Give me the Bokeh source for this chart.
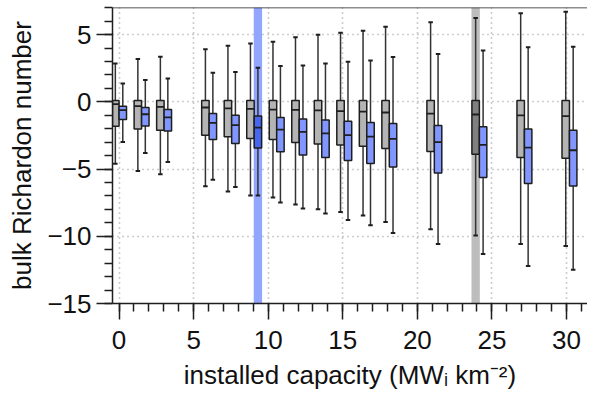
from bokeh.plotting import figure
from bokeh.models import ColumnDataSource, SingleIntervalTicker, Range1d, Span
from bokeh.transform import dodge
from bokeh.embed import file_html
from bokeh.resources import INLINE

# ---- data ----
capacity = [0, 1.51, 3.02, 6.04, 7.55, 9.06, 10.57, 12.08, 13.59, 15.1,
            16.61, 18.12, 21.14, 24.16, 27.18, 30.2]

grey_high = [2.86, 3.18, 3.35, 3.92, 4.17, 4.35, 4.47, 4.8, 4.99, 5.14,
             5.29, 5.58, 5.93, 6.23, 6.6, 6.7]
grey_q3 = [0.1, 0.1, 0.1, 0.1, 0.1, 0.1, 0.1, 0.1, 0.1, 0.1,
           0.1, 0.1, 0.1, 0.1, 0.1, 0.1]
grey_med = [-0.17, -0.32, -0.37, -0.42, -0.49, -0.52, -0.57, -0.6, -0.64, -0.69,
            -0.72, -0.79, -0.87, -0.94, -1.01, -1.06]
grey_q1 = [-1.81, -2.01, -2.11, -2.48, -2.6, -2.73, -2.8, -3.02, -3.13, -3.2,
           -3.3, -3.47, -3.69, -3.89, -4.14, -4.19]
grey_low = [-4.6, -5.14, -5.38, -6.28, -6.67, -6.96, -7.12, -7.64, -7.99, -8.19,
            -8.46, -8.93, -9.48, -9.95, -10.57, -10.72]

blue_high = [1.37, 1.62, 1.74, 2.16, 2.23, 2.53, 2.66, 2.71, 2.86, 2.98,
             3.08, 3.33, 3.57, 3.83, 4.07, 4.1]
blue_q3 = [-0.32, -0.42, -0.57, -0.86, -0.99, -1.06, -1.16, -1.27, -1.34, -1.44,
           -1.54, -1.61, -1.76, -1.86, -2.01, -2.11]
blue_med = [-0.62, -0.92, -1.16, -1.56, -1.73, -1.91, -2.06, -2.23, -2.35, -2.48,
            -2.58, -2.76, -3.0, -3.2, -3.4, -3.6]
blue_q1 = [-1.31, -1.79, -2.16, -2.8, -3.1, -3.43, -3.72, -3.95, -4.14, -4.36,
           -4.59, -4.84, -5.29, -5.63, -6.08, -6.25]
blue_low = [-2.98, -3.8, -4.48, -5.8, -6.33, -6.97, -7.49, -7.94, -8.31, -8.79,
            -9.18, -9.75, -10.57, -11.32, -12.21, -12.48]

grey_highlight = 13   # index of highlighted grey box
blue_highlight = 5    # index of highlighted blue box

y_ticks = [-15, -10, -5, 0, 5]
y_tick_labels = ["\u221215", "\u221210", "\u22125", "0", "5"]
x_label = "installed capacity (MW\u1d62 km\u207b\u00b2)"
y_label = "bulk Richardon number"

# ---- styling ----
FONT = "Liberation Sans"
INK = "#1e1e1e"
GREY_FILL, GREY_DARK, GREY_BAND = "#b4b4b4", "#808080", "#bdbdbd"
BLUE_FILL, BLUE_DARK, BLUE_BAND = "#8197ff", "#4468f2", "#93a6ff"
OFF = 0.25
BOXW = 0.5

XMIN, XMAX = -0.44, 31.41
YMIN, YMAX = -15, 7.02

p = figure(width=587, height=392, x_range=Range1d(XMIN, XMAX),
           y_range=Range1d(YMIN, YMAX), output_backend="svg",
           toolbar_location=None, min_border_left=112, min_border_right=0,
           min_border_top=7, min_border_bottom=89)
p.outline_line_color = None
p.background_fill_color = "white"
p.border_fill_color = "white"

xg = [c - OFF for c in capacity]
xb = [c + OFF for c in capacity]
gfill = [GREY_DARK if i == grey_highlight else GREY_FILL for i in range(len(capacity))]
bfill = [BLUE_DARK if i == blue_highlight else BLUE_FILL for i in range(len(capacity))]

gsrc = ColumnDataSource(dict(x=xg, low=grey_low, q1=grey_q1, med=grey_med,
                             q3=grey_q3, high=grey_high, fill=gfill))
bsrc = ColumnDataSource(dict(x=xb, low=blue_low, q1=blue_q1, med=blue_med,
                             q3=blue_q3, high=blue_high, fill=bfill))

# highlight bands
p.vbar(x=[xb[blue_highlight]], width=0.56, bottom=YMIN, top=YMAX,
       fill_color=BLUE_BAND, line_color=None)
p.vbar(x=[xg[grey_highlight]], width=0.56, bottom=YMIN, top=YMAX,
       fill_color=GREY_BAND, line_color=None)

for src in (gsrc, bsrc):
    p.segment(x0="x", x1="x", y0="low", y1="high", source=src,
              line_color="#333333", line_width=1.5)
    p.scatter(x="x", y="low", marker="dash", size=4.5, source=src,
              line_color=INK, line_width=2)
    p.scatter(x="x", y="high", marker="dash", size=4.5, source=src,
              line_color=INK, line_width=2)
    p.vbar(x="x", width=BOXW, top="q3", bottom="q1", source=src,
           fill_color="fill", line_color=INK, line_width=1.5)
    p.segment(x0=dodge("x", -BOXW / 2, range=p.x_range),
              x1=dodge("x", BOXW / 2, range=p.x_range),
              y0="med", y1="med", source=src, line_color=INK, line_width=1.8)

# top frame line
p.add_layout(Span(location=YMAX, dimension="width", line_color=INK, line_width=1.5))

# grid
p.xgrid.ticker = SingleIntervalTicker(interval=5)
p.ygrid.ticker = SingleIntervalTicker(interval=5)
for g in (p.xgrid[0], p.ygrid[0]):
    g.grid_line_color = "#9a9a9a"
    g.grid_line_dash = "1 4"
    g.grid_line_width = 1.6

for ax in (p.xaxis[0], p.yaxis[0]):
    ax.ticker = SingleIntervalTicker(interval=5, num_minor_ticks=5)
    ax.major_tick_out = 16
    ax.major_tick_in = 0
    ax.minor_tick_out = 8
    ax.minor_tick_in = 0
    ax.axis_line_color = INK
    ax.axis_line_width = 1.5
    ax.major_tick_line_color = INK
    ax.major_tick_line_width = 1.5
    ax.minor_tick_line_color = INK
    ax.minor_tick_line_width = 1.5
    ax.major_label_text_font = FONT
    ax.major_label_text_font_size = "26px"
    ax.major_label_text_color = "#111111"
    ax.axis_label_text_font = FONT
    ax.axis_label_text_font_size = "26px"
    ax.axis_label_text_font_style = "normal"
    ax.axis_label_text_color = "#111111"

p.xaxis.axis_label = x_label
p.yaxis.axis_label = y_label
p.xaxis.major_label_standoff = 11
p.yaxis.major_label_standoff = 5
p.xaxis.axis_label_standoff = 8
p.yaxis.axis_label_standoff = 7
p.yaxis.major_label_overrides = {t: s for t, s in zip(y_ticks, y_tick_labels)}

open("out.html", "w").write(file_html(p, INLINE))
